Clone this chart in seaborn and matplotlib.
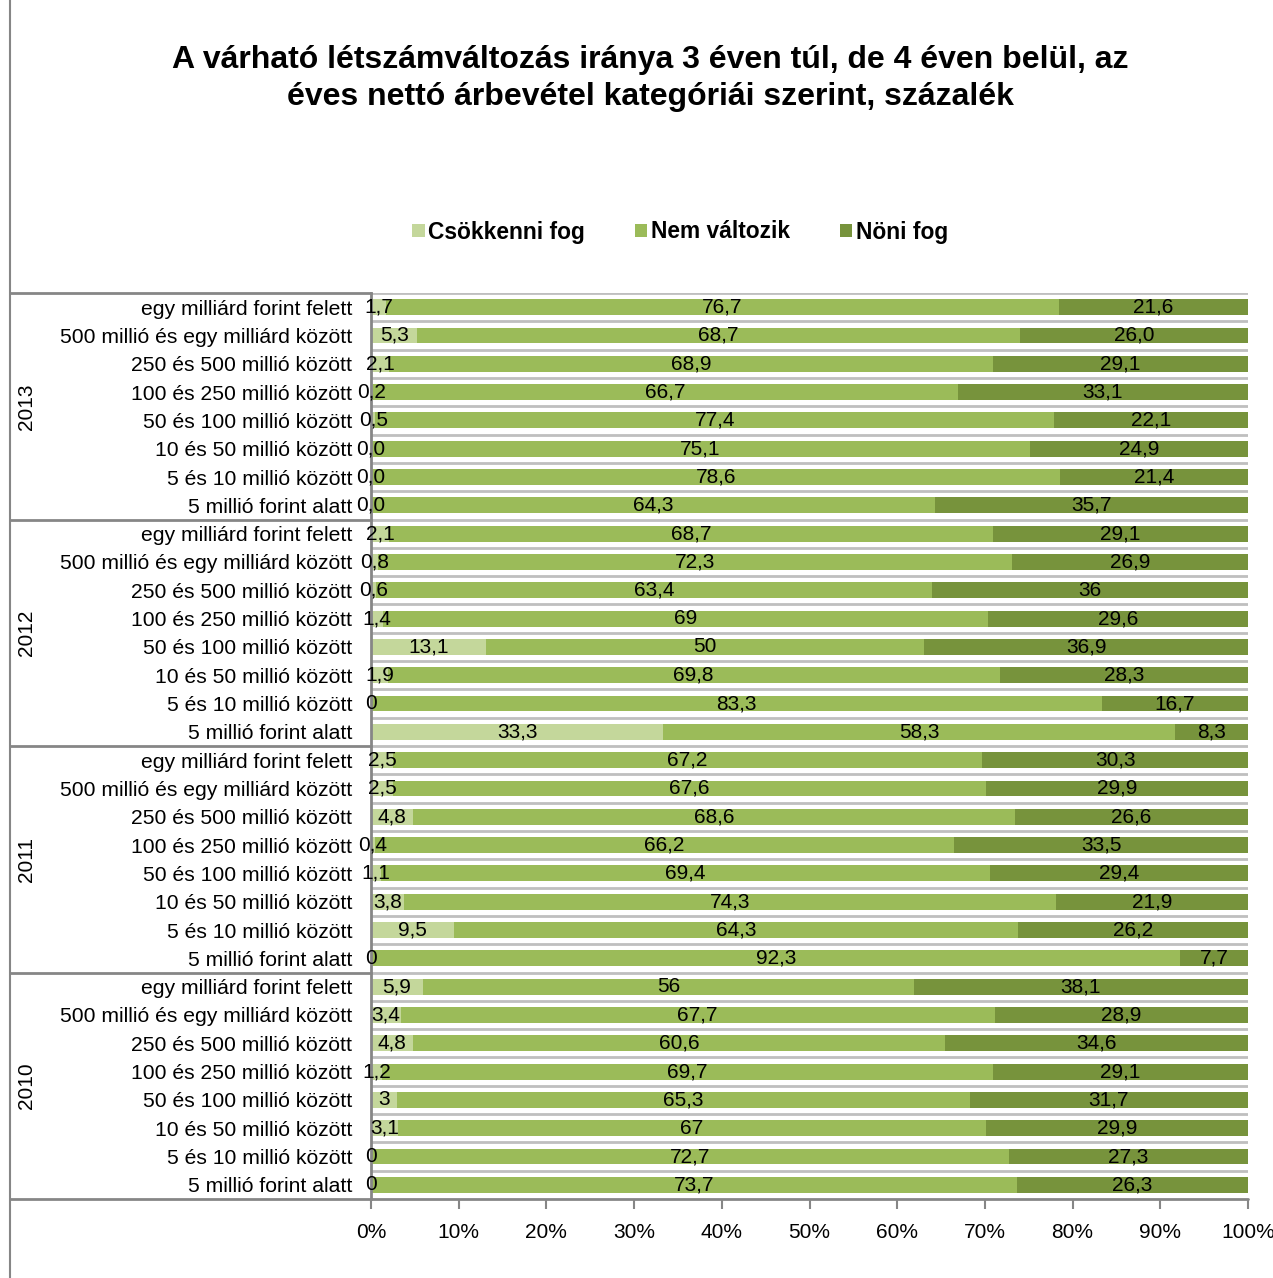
import pandas as pd
import matplotlib
import matplotlib.pyplot as plt
import matplotlib.transforms as mtransforms
from matplotlib.lines import Line2D
from matplotlib.patches import Patch
import seaborn as sns
matplotlib.use("Agg")

sns.set_theme(style="white")
plt.rcParams['font.family'] = ['Liberation Sans', 'DejaVu Sans']
plt.rcParams['text.color'] = 'black'
plt.rcParams['xtick.color'] = 'black'
plt.rcParams['ytick.color'] = 'black'

# categories, top to bottom inside each year block
categories = [
    "egy milliárd forint felett",
    "500 millió és egy milliárd között",
    "250 és 500 millió között",
    "100 és 250 millió között",
    "50 és 100 millió között",
    "10 és 50 millió között",
    "5 és 10 millió között",
    "5 millió forint alatt",
]
years = ["2013", "2012", "2011", "2010"]
series_names = ["Csökkenni fog", "Nem változik", "Nöni fog"]

csokken = [1.7, 5.3, 2.1, 0.2, 0.5, 0.0, 0.0, 0.0,
           2.1, 0.8, 0.6, 1.4, 13.1, 1.9, 0, 33.3,
           2.5, 2.5, 4.8, 0.4, 1.1, 3.8, 9.5, 0,
           5.9, 3.4, 4.8, 1.2, 3, 3.1, 0, 0]
nem_valtozik = [76.7, 68.7, 68.9, 66.7, 77.4, 75.1, 78.6, 64.3,
                68.7, 72.3, 63.4, 69, 50, 69.8, 83.3, 58.3,
                67.2, 67.6, 68.6, 66.2, 69.4, 74.3, 64.3, 92.3,
                56, 67.7, 60.6, 69.7, 65.3, 67, 72.7, 73.7]
noni = [21.6, 26.0, 29.1, 33.1, 22.1, 24.9, 21.4, 35.7,
        29.1, 26.9, 36, 29.6, 36.9, 28.3, 16.7, 8.3,
        30.3, 29.9, 26.6, 33.5, 29.4, 21.9, 26.2, 7.7,
        38.1, 28.9, 34.6, 29.1, 31.7, 29.9, 27.3, 26.3]

colors = ["#C4D79B", "#9BBB59", "#77933C"]

# 100% stacked: normalise every row to its sum
rows = []
for i in range(len(csokken)):
    s = csokken[i] + nem_valtozik[i] + noni[i]
    rows.append({
        "row": "r%02d" % i,
        "year": years[i // 8],
        "cat": categories[i % 8],
        "c1": csokken[i] / s * 100,
        "c2": (csokken[i] + nem_valtozik[i]) / s * 100,
        "c3": 100.0,
    })
df = pd.DataFrame(rows)
order = df.row.tolist()

fig = plt.figure(figsize=(12.73, 12.78), dpi=100)
ax = fig.add_axes([371 / 1273, 1 - 1199 / 1278, (1248 - 371) / 1273, (1199 - 293) / 1278])

# layered cumulative bars make the stack
for col, color in zip(["c3", "c2", "c1"], colors[::-1]):
    sns.barplot(data=df, x=col, y="row", order=order, orient="h", color=color,
                saturation=1, width=0.56, errorbar=None, linewidth=0, ax=ax)

ax.set_xlim(0, 100)
ax.set_ylim(31.5, -0.5)
ax.set_xlabel("")
ax.set_ylabel("")

# row separator lines
for k in range(32):
    ax.axhline(k - 0.5, color="#BFBFBF", lw=2, zorder=0.5)

# data labels
for i, r in df.iterrows():
    vals = [csokken[i], nem_valtozik[i], noni[i]]
    starts = [0, r.c1, r.c2]
    ends = [r.c1, r.c2, r.c3]
    for v, a, b in zip(vals, starts, ends):
        if r.year == "2013":
            lab = "%.1f" % v
        else:
            lab = "%g" % v
        ax.text((a + b) / 2, i, lab.replace(".", ","), ha="center", va="center",
                fontsize=15, color="black", zorder=5)

ax.set_yticks(range(32))
ax.set_yticklabels(df.cat.tolist(), fontsize=15.2)
ax.tick_params(axis="y", length=0, pad=13.5)

ax.set_xticks(range(0, 101, 10))
ax.set_xticklabels(["%d%%" % t for t in range(0, 101, 10)], fontsize=15)
ax.tick_params(axis="x", direction="out", length=7, width=1.5, color="#868686",
               labelcolor="black", pad=10, bottom=True)

for side in ["top", "right"]:
    ax.spines[side].set_visible(False)
ax.spines["left"].set_color("#868686")
ax.spines["left"].set_linewidth(2)
ax.spines["bottom"].set_visible(False)

# label-area frame: group lines, left border, long bottom axis line
trans = mtransforms.blended_transform_factory(fig.transFigure, ax.transData)
for yb in [-0.5, 7.5, 15.5, 23.5]:
    fig.add_artist(Line2D([10 / 1273, 371 / 1273], [yb, yb], transform=trans,
                          color="#868686", lw=2))
fig.add_artist(Line2D([10 / 1273, 1248 / 1273], [31.5, 31.5], transform=trans,
                      color="#868686", lw=2))
fig.add_artist(Line2D([10 / 1273, 10 / 1273], [0, 1], transform=fig.transFigure,
                      color="#868686", lw=1.5))

for g, yr in enumerate(years):
    fig.text(27 / 1273, g * 8 + 3.5, yr, transform=trans, rotation=90,
             ha="center", va="center", fontsize=15)

# title
fig.text(650 / 1273, 1 - 60 / 1278,
         "A várható létszámváltozás iránya 3 éven túl, de 4 éven belül, az",
         ha="center", va="center", fontsize=23, fontweight="bold")
fig.text(650 / 1273, 1 - 97 / 1278,
         "éves nettó árbevétel kategóriái szerint, százalék",
         ha="center", va="center", fontsize=23, fontweight="bold")

handles = [Patch(facecolor=c, edgecolor="none", label=n) for c, n in zip(colors, series_names)]
fig.legend(handles=handles, loc="center", bbox_to_anchor=(680 / 1273, 1 - 232 / 1278),
           ncol=3, frameon=False, handlelength=0.55, handleheight=0.55,
           handletextpad=0.15, columnspacing=2.2,
           prop={"size": 16.4, "weight": "bold"})

fig.savefig("out.png", dpi=100)
